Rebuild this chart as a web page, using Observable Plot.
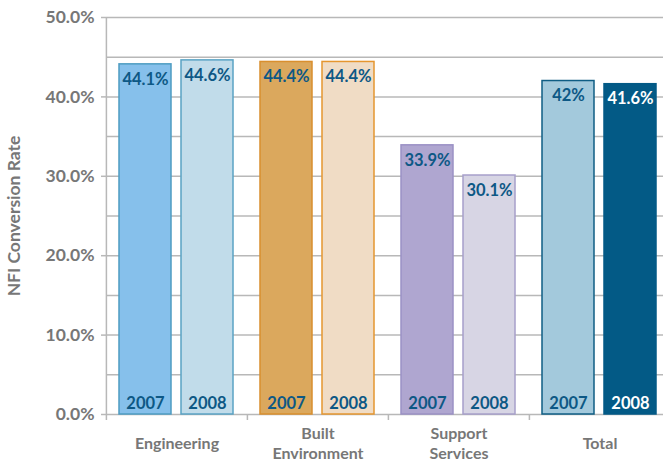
<!DOCTYPE html>
<html><head><meta charset="utf-8">
<script src="https://cdn.jsdelivr.net/npm/d3@7"></script>
<script src="https://cdn.jsdelivr.net/npm/@observablehq/plot@0.6"></script>
<style>body{margin:0;background:#fff;overflow:hidden} #chart svg{display:block}</style>
</head><body><div id="chart"></div>
<script>
const categories = ["Engineering", "Built Environment", "Support Services", "Total"];
const categoryLabels = ["Engineering", "Built\nEnvironment", "Support\nServices", "Total"];
const years = ["2007", "2008"];
const rate2007 = [44.1, 44.4, 33.9, 42];
const rate2008 = [44.6, 44.4, 30.1, 41.6];
const yTicks = [0, 10, 20, 30, 40, 50];
const gridTicks = [0, 5, 10, 15, 20, 25, 30, 35, 40, 45, 50];

const fill2007 = ["#86c0eb", "#dba85d", "#afa6d0", "#a3c9dc"];
const fill2008 = ["#c1dcea", "#f0dcc5", "#d7d5e4", "#035a86"];
const stroke2007 = ["#4d9cc2", "#d98f2e", "#9b91c5", "#0f5d84"];
const stroke2008 = ["#5aa3c4", "#e5962f", "#a79fca", "#035a86"];
const text2007 = ["#0d5885", "#0d5885", "#0d5885", "#0d5885"];
const text2008 = ["#0d5885", "#0d5885", "#0d5885", "#ffffff"];

const rows = [];
categories.forEach((c, i) => {
  rows.push({category: c, year: years[0], value: rate2007[i], fill: fill2007[i], stroke: stroke2007[i], text: text2007[i]});
  rows.push({category: c, year: years[1], value: rate2008[i], fill: fill2008[i], stroke: stroke2008[i], text: text2008[i]});
});

const fmtVal = v => `${v}%`;
const grey = "#777777";
const gridGrey = "#b8b8b8";

// facet geometry (used for the boundary tick offset)
const fxRange = [105, 670];
const padIn = 0.16, padOut = 0.2;
const facetW = (fxRange[1] - fxRange[0]) / categories.length;
const step = facetW / (years.length - padIn + 2 * padOut);
const boundaryDx = -(padOut * step + step * (1 - padIn) / 2);

const separators = categories.map((c, i) => ({category: c, top: i === 0 ? 50 : 0}));

const chart = Plot.plot({
  width: 663,
  height: 461,
  marginLeft: 105,
  marginRight: 0,
  marginTop: 17,
  marginBottom: 47,
  style: {fontFamily: "Lato, 'Open Sans', sans-serif", background: "#fff"},
  fx: {domain: categories, range: fxRange, padding: 0, axis: null},
  x: {domain: years, paddingInner: padIn, paddingOuter: padOut, axis: null},
  y: {domain: [0, 50], axis: null},
  marks: [
    Plot.ruleY(gridTicks, {stroke: gridGrey, strokeWidth: 1.5}),
    Plot.ruleX(separators, {fx: "category", x: () => years[0], y1: "top", y2: 0, dx: boundaryDx, insetBottom: -6, stroke: gridGrey, strokeWidth: 1.5}),
    Plot.axisY(yTicks, {
      tickFormat: d => d.toFixed(1) + "%",
      tickSize: 5, tickPadding: 7,
      stroke: gridGrey, strokeWidth: 1.5,
      fill: grey, fontSize: 17.5, fontWeight: "bold",
      label: "NFI Conversion Rate", labelAnchor: "center", labelOffset: 99, labelArrow: "none"
    }),
    Plot.barY(rows, {fx: "category", x: "year", y: "value", fill: d => d.fill, stroke: d => d.stroke, strokeWidth: 1.5}),
    Plot.text(rows, {fx: "category", x: "year", y: "value", text: d => fmtVal(d.value), fill: d => d.text, dy: 15, fontSize: 16.5, fontWeight: "bold", lineAnchor: "middle"}),
    Plot.text(rows, {fx: "category", x: "year", y: () => 0, text: "year", fill: d => d.text, dy: -11, fontSize: 16.5, fontWeight: "bold", lineAnchor: "middle"}),
    Plot.text(categories, {fx: d => d, text: (d, i) => categoryLabels[i], frameAnchor: "bottom", dy: 28, lineAnchor: "middle", lineHeight: 1.25, fontSize: 16, fontWeight: "bold", fill: grey})
  ]
});
document.getElementById("chart").appendChild(chart);
</script>
</body></html>
